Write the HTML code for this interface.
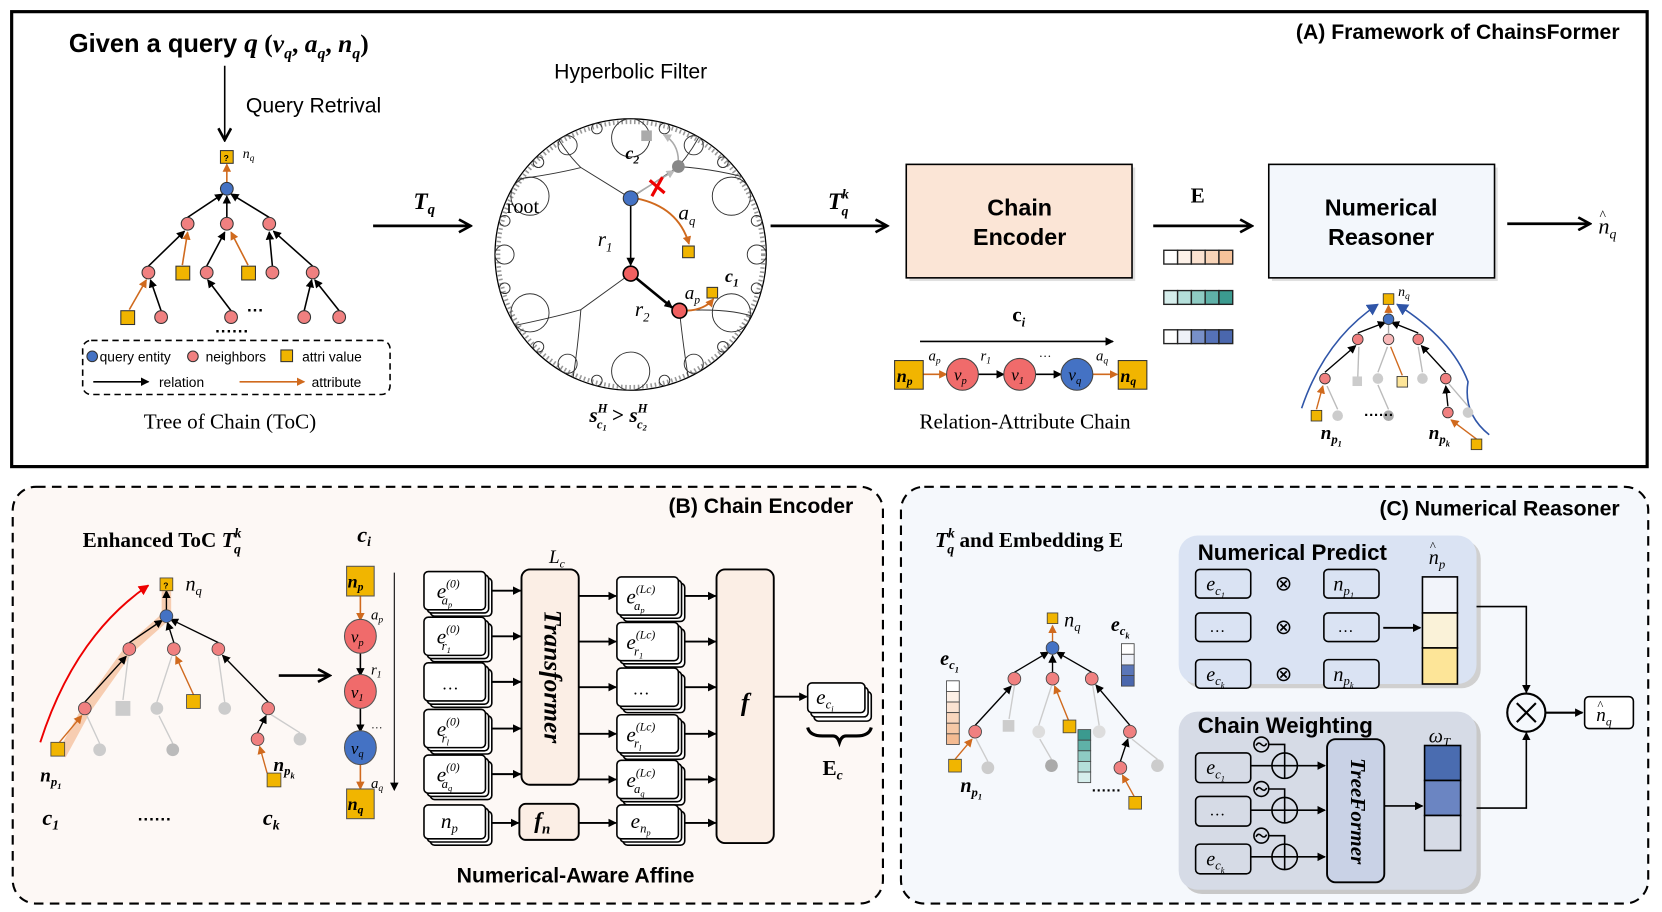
<!DOCTYPE html>
<html><head><meta charset="utf-8"><style>
html,body{margin:0;padding:0;background:#fff;}
svg{display:block;}
.sb{font-family:"Liberation Sans",sans-serif;font-weight:bold;}
.s{font-family:"Liberation Sans",sans-serif;}
.m{font-family:"Liberation Serif",serif;font-style:italic;}
.mb{font-family:"Liberation Serif",serif;font-style:italic;font-weight:bold;}
.r{font-family:"Liberation Serif",serif;}
</style></head><body>
<svg width="1662" height="912" viewBox="0 0 1568 860" preserveAspectRatio="none" xmlns="http://www.w3.org/2000/svg">
<defs>
<marker id="ak" markerWidth="8" markerHeight="8" refX="7" refY="4" orient="auto" markerUnits="userSpaceOnUse"><path d="M0,0 L8,4 L0,8 z" fill="#000"/></marker>
<marker id="akb" markerWidth="14" markerHeight="14" refX="12" refY="7" orient="auto" markerUnits="userSpaceOnUse"><path d="M1,1 L12,7 L1,13" fill="none" stroke="#000" stroke-width="2.5"/></marker>
<marker id="ao" markerWidth="8" markerHeight="8" refX="7" refY="4" orient="auto" markerUnits="userSpaceOnUse"><path d="M0,0 L8,4 L0,8 z" fill="#d06a1e"/></marker>
<marker id="ag" markerWidth="8" markerHeight="8" refX="7" refY="4" orient="auto" markerUnits="userSpaceOnUse"><path d="M0,0 L8,4 L0,8 z" fill="#bbb"/></marker>
<marker id="abl" markerWidth="12" markerHeight="12" refX="10" refY="6" orient="auto" markerUnits="userSpaceOnUse"><path d="M0,0 L11,6 L0,12 z" fill="#2f55a8"/></marker>
<marker id="ar" markerWidth="10" markerHeight="10" refX="9" refY="5" orient="auto" markerUnits="userSpaceOnUse"><path d="M0,0 L10,5 L0,10 z" fill="#e00"/></marker>
<clipPath id="hc"><circle cx="595" cy="240" r="128"/></clipPath>
</defs>

<!-- TOP BOX -->
<rect x="11" y="11" width="1543" height="429" fill="#fff" stroke="#000" stroke-width="3"/>
<text x="1528" y="37" class="sb" font-size="20" text-anchor="end">(A) Framework of ChainsFormer</text>

<text x="65" y="49" class="sb" font-size="24">Given a query <tspan class="mb" font-size="26">q</tspan><tspan class="r" font-size="24"> (</tspan><tspan class="mb" font-size="24">v</tspan><tspan class="mb" font-size="15" dy="6">q</tspan><tspan class="r" dy="-6">, </tspan><tspan class="mb">a</tspan><tspan class="mb" font-size="15" dy="6">q</tspan><tspan class="r" dy="-6">, </tspan><tspan class="mb">n</tspan><tspan class="mb" font-size="15" dy="6">q</tspan><tspan class="r" dy="-6">)</tspan></text>
<line x1="212" y1="62" x2="212" y2="132" stroke="#000" stroke-width="1.5" marker-end="url(#akb)"/>
<text x="232" y="106" class="s" font-size="20">Query Retrival</text>

<!-- ToC tree -->
<g stroke-width="1.5">
<line x1="214" y1="172" x2="214" y2="155" stroke="#d06a1e" marker-end="url(#ao)"/>
<line x1="177" y1="205" x2="210" y2="183" stroke="#000" marker-end="url(#ak)"/>
<line x1="214" y1="205" x2="214" y2="185" stroke="#000" marker-end="url(#ak)"/>
<line x1="254" y1="205" x2="218" y2="183" stroke="#000" marker-end="url(#ak)"/>
<line x1="140" y1="251" x2="174" y2="218" stroke="#000" marker-end="url(#ak)"/>
<line x1="172" y1="250" x2="177" y2="219" stroke="#d06a1e" marker-end="url(#ao)"/>
<line x1="195" y1="251" x2="212" y2="219" stroke="#000" marker-end="url(#ak)"/>
<line x1="234" y1="250" x2="218" y2="219" stroke="#d06a1e" marker-end="url(#ao)"/>
<line x1="257" y1="251" x2="254" y2="219" stroke="#000" marker-end="url(#ak)"/>
<line x1="295" y1="251" x2="258" y2="218" stroke="#000" marker-end="url(#ak)"/>
<line x1="122" y1="292" x2="138" y2="264" stroke="#d06a1e" marker-end="url(#ao)"/>
<line x1="152" y1="293" x2="142" y2="264" stroke="#000" marker-end="url(#ak)"/>
<line x1="218" y1="293" x2="196" y2="264" stroke="#000" marker-end="url(#ak)"/>
<line x1="287" y1="293" x2="294" y2="264" stroke="#000" marker-end="url(#ak)"/>
<line x1="320" y1="293" x2="297" y2="264" stroke="#000" marker-end="url(#ak)"/>
</g>
<g stroke="#333" stroke-width="1">
<rect x="208" y="142" width="12" height="12" fill="#f1b500"/>
<circle cx="214" cy="178" r="6" fill="#4472c4"/>
<circle cx="177" cy="211" r="6" fill="#f08080"/><circle cx="214" cy="211" r="6" fill="#f08080"/><circle cx="254" cy="211" r="6" fill="#f08080"/>
<circle cx="140" cy="257" r="6" fill="#f08080"/><rect x="166" y="251" width="13" height="13" fill="#f1b500"/><circle cx="195" cy="257" r="6" fill="#f08080"/><rect x="228" y="251" width="13" height="13" fill="#f1b500"/><circle cx="257" cy="257" r="6" fill="#f08080"/><circle cx="295" cy="257" r="6" fill="#f08080"/>
<rect x="114" y="293" width="13" height="13" fill="#f1b500"/><circle cx="152" cy="299" r="6" fill="#f08080"/><circle cx="218" cy="299" r="6" fill="#f08080"/><circle cx="287" cy="299" r="6" fill="#f08080"/><circle cx="320" cy="299" r="6" fill="#f08080"/>
</g>
<text x="211" y="152" font-size="8" class="sb">?</text>
<text x="229" y="149" class="m" font-size="13">n<tspan font-size="9" dy="3">q</tspan></text>
<text x="233" y="298" class="sb" font-size="16">···</text>
<text x="203" y="318" class="sb" font-size="16">······</text>
<rect x="78" y="321" width="290" height="51" rx="8" fill="none" stroke="#000" stroke-width="1.5" stroke-dasharray="6,4"/>
<circle cx="87" cy="336" r="5" fill="#4472c4" stroke="#333"/><text x="94" y="341" class="s" font-size="13">query entity</text>
<circle cx="182" cy="336" r="5" fill="#f08080" stroke="#333"/><text x="194" y="341" class="s" font-size="13">neighbors</text>
<rect x="265" y="330" width="11" height="11" fill="#f1b500" stroke="#333"/><text x="285" y="341" class="s" font-size="13">attri value</text>
<line x1="88" y1="360" x2="140" y2="360" stroke="#000" stroke-width="1.5" marker-end="url(#ak)"/><text x="150" y="365" class="s" font-size="13">relation</text>
<line x1="226" y1="360" x2="287" y2="360" stroke="#d06a1e" stroke-width="1.5" marker-end="url(#ao)"/><text x="294" y="365" class="s" font-size="13">attribute</text>
<text x="217" y="404" class="r" font-size="20" text-anchor="middle">Tree of Chain (ToC)</text>

<line x1="352" y1="213" x2="444" y2="213" stroke="#000" stroke-width="2.5" marker-end="url(#akb)"/>
<text x="390" y="197" class="mb" font-size="22">T<tspan font-size="14" dy="5">q</tspan></text>

<!-- Hyperbolic -->
<text x="595" y="74" class="s" font-size="20" text-anchor="middle">Hyperbolic Filter</text>
<circle cx="595" cy="240" r="128" fill="#fff" stroke="#000" stroke-width="1.2"/>
<g clip-path="url(#hc)" fill="none" stroke="#333" stroke-width="0.9">
<circle cx="595" cy="240" r="125" stroke="#555" stroke-width="4" stroke-dasharray="1.5,2.5" opacity="0.6"/>
<circle cx="690" cy="295" r="18"/><circle cx="595" cy="350" r="18"/><circle cx="500" cy="295" r="18"/>
<circle cx="500" cy="185" r="18"/><circle cx="595" cy="130" r="18"/><circle cx="690" cy="185" r="18"/>
<circle cx="714" cy="240" r="9"/><circle cx="654.5" cy="343" r="9"/><circle cx="535.5" cy="343" r="9"/>
<circle cx="476" cy="240" r="9"/><circle cx="535.5" cy="137" r="9"/><circle cx="654.5" cy="137" r="9"/>
<circle cx="713.8" cy="271.8" r="5"/><circle cx="682" cy="327" r="5"/><circle cx="626.9" cy="358.8" r="5"/><circle cx="563.1" cy="358.8" r="5"/>
<circle cx="508" cy="327" r="5"/><circle cx="476.2" cy="271.8" r="5"/><circle cx="476.2" cy="208.2" r="5"/><circle cx="508" cy="153" r="5"/>
<circle cx="563.1" cy="121.2" r="5"/><circle cx="626.9" cy="121.2" r="5"/><circle cx="682" cy="153" r="5"/><circle cx="713.8" cy="208.2" r="5"/>
<path d="M595,187 L548,158 Q530,140 520,118"/>
<path d="M548,158 Q520,165 480,170"/>
<path d="M595,187 L640,157 Q655,140 665,118"/>
<path d="M640,157 Q680,160 712,170"/>
<path d="M595,258 L548,292 Q520,300 480,308"/>
<path d="M548,292 Q545,330 540,360"/>
<path d="M641,293 Q645,330 650,360"/>
<path d="M641,293 Q690,290 715,300"/>
</g>
<line x1="595" y1="187" x2="595" y2="250" stroke="#000" stroke-width="1.5" marker-end="url(#ak)"/>
<line x1="595" y1="258" x2="634" y2="290" stroke="#000" stroke-width="2.5" marker-end="url(#ak)"/>
<path d="M600,187 Q640,195 650,230" fill="none" stroke="#d06a1e" stroke-width="1.8" marker-end="url(#ao)"/>
<path d="M648,293 Q665,292 673,282" fill="none" stroke="#d06a1e" stroke-width="1.8" marker-end="url(#ao)"/>
<line x1="600" y1="183" x2="636" y2="161" stroke="#aaa" stroke-width="1.5" marker-end="url(#ag)"/>
<path d="M640,152 Q640,135 626,127" fill="none" stroke="#aaa" stroke-width="1.5" marker-end="url(#ag)"/>
<circle cx="640" cy="157" r="6" fill="#888"/>
<rect x="605" y="123" width="10" height="10" fill="#aaa"/>
<path d="M613,170 L627,182 M625,167 L615,185" stroke="#e00" stroke-width="3"/>
<circle cx="595" cy="187" r="7" fill="#4472c4" stroke="#333"/>
<circle cx="595" cy="258" r="7" fill="#f06060" stroke="#000" stroke-width="1.5"/>
<circle cx="641" cy="293" r="7" fill="#f06060" stroke="#000" stroke-width="1.5"/>
<rect x="644" y="232" width="11" height="11" fill="#f1b500" stroke="#333"/>
<rect x="667" y="271" width="10" height="10" fill="#f1b500" stroke="#333"/>
<text x="590" y="150" class="mb" font-size="17">c<tspan font-size="11" dy="4">2</tspan></text>
<text x="478" y="201" class="r" font-size="19">root</text>
<text x="640" y="207" class="m" font-size="20">a<tspan font-size="12" dy="5">q</tspan></text>
<text x="564" y="232" class="m" font-size="20">r<tspan font-size="12" dy="5">1</tspan></text>
<text x="599" y="298" class="m" font-size="20">r<tspan font-size="12" dy="5">2</tspan></text>
<text x="646" y="282" class="m" font-size="18">a<tspan font-size="11" dy="4">p</tspan></text>
<text x="684" y="266" class="mb" font-size="17">c<tspan font-size="11" dy="4">1</tspan></text>
<text x="556" y="398" class="mb" font-size="20">s<tspan font-size="12" dy="-9">H</tspan><tspan font-size="12" dx="-10" dy="15">c</tspan><tspan font-size="8" dy="2">1</tspan><tspan class="r" font-size="20" dy="-8" font-style="normal"> &gt; </tspan>s<tspan font-size="12" dy="-9">H</tspan><tspan font-size="12" dx="-10" dy="15">c</tspan><tspan font-size="8" dy="2">2</tspan></text>

<line x1="727" y1="213" x2="837" y2="213" stroke="#000" stroke-width="2.5" marker-end="url(#akb)"/>
<text x="781" y="197" class="mb" font-size="22">T<tspan font-size="13" dy="-10">k</tspan><tspan font-size="13" dx="-7" dy="16">q</tspan></text>

<rect x="858" y="158" width="213" height="107" fill="#ccc" opacity="0.6"/>
<rect x="855" y="155" width="213" height="107" fill="#fbe5d6" stroke="#000" stroke-width="1.5"/>
<text x="962" y="203" class="sb" font-size="22" text-anchor="middle">Chain</text>
<text x="962" y="231" class="sb" font-size="22" text-anchor="middle">Encoder</text>
<line x1="1088" y1="213" x2="1181" y2="213" stroke="#000" stroke-width="2.5" marker-end="url(#akb)"/>
<text x="1130" y="191" class="r" font-weight="bold" font-size="20" text-anchor="middle">E</text>
<g stroke="#222" stroke-width="1.3">
<rect x="1098" y="236" width="13" height="13" fill="#fff"/><rect x="1111" y="236" width="13" height="13" fill="#fdf1e8"/><rect x="1124" y="236" width="13" height="13" fill="#fbe2d0"/><rect x="1137" y="236" width="13" height="13" fill="#f8d4b8"/><rect x="1150" y="236" width="13" height="13" fill="#f5c29a"/>
<rect x="1098" y="274" width="13" height="13" fill="#d6eeec"/><rect x="1111" y="274" width="13" height="13" fill="#b4dfda"/><rect x="1124" y="274" width="13" height="13" fill="#8ecbc3"/><rect x="1137" y="274" width="13" height="13" fill="#5fb1a8"/><rect x="1150" y="274" width="13" height="13" fill="#3b9a8f"/>
<rect x="1098" y="311" width="13" height="13" fill="#fff"/><rect x="1111" y="311" width="13" height="13" fill="#eef1f8"/><rect x="1124" y="311" width="13" height="13" fill="#7890c8"/><rect x="1137" y="311" width="13" height="13" fill="#5572b8"/><rect x="1150" y="311" width="13" height="13" fill="#4a67ad"/>
</g>
<rect x="1200" y="158" width="213" height="107" fill="#ccc" opacity="0.6"/>
<rect x="1197" y="155" width="213" height="107" fill="#f3f7fc" stroke="#000" stroke-width="1.5"/>
<text x="1303" y="203" class="sb" font-size="22" text-anchor="middle">Numerical</text>
<text x="1303" y="231" class="sb" font-size="22" text-anchor="middle">Reasoner</text>
<line x1="1422" y1="211" x2="1500" y2="211" stroke="#000" stroke-width="2.5" marker-end="url(#akb)"/>
<text x="1508" y="220" class="m" font-size="21">n<tspan font-size="13" dy="5">q</tspan></text><text x="1509" y="207" class="r" font-size="13">^</text>

<!-- chain -->
<text x="955" y="303" class="r" font-weight="bold" font-size="20">c<tspan font-size="12" dy="5" font-style="italic">i</tspan></text>
<line x1="868" y1="322" x2="1050" y2="322" stroke="#000" stroke-width="1.5" marker-end="url(#ak)"/>
<line x1="870" y1="353" x2="893" y2="353" stroke="#d06a1e" stroke-width="1.5" marker-end="url(#ao)"/>
<line x1="923" y1="353" x2="947" y2="353" stroke="#000" stroke-width="1.5" marker-end="url(#ak)"/>
<line x1="977" y1="353" x2="1001" y2="353" stroke="#000" stroke-width="1.5" marker-end="url(#ak)"/>
<line x1="1031" y1="353" x2="1054" y2="353" stroke="#d06a1e" stroke-width="1.5" marker-end="url(#ao)"/>
<rect x="844" y="340" width="27" height="27" fill="#f1b500" stroke="#333"/>
<circle cx="908" cy="353" r="15" fill="#f06b6b" stroke="#444"/>
<circle cx="962" cy="353" r="15" fill="#f06b6b" stroke="#444"/>
<circle cx="1016" cy="353" r="15" fill="#4472c4" stroke="#444"/>
<rect x="1055" y="340" width="27" height="27" fill="#f1b500" stroke="#333"/>
<text x="846" y="360" class="mb" font-size="17">n<tspan font-size="11" dy="3">p</tspan></text>
<text x="900" y="359" class="m" font-size="16">v<tspan font-size="10" dy="3">p</tspan></text>
<text x="954" y="359" class="m" font-size="16">v<tspan font-size="10" dy="3">1</tspan></text>
<text x="1008" y="359" class="m" font-size="16">v<tspan font-size="10" dy="3">q</tspan></text>
<text x="1057" y="360" class="mb" font-size="17">n<tspan font-size="11" dy="3">q</tspan></text>
<text x="876" y="340" class="m" font-size="14">a<tspan font-size="9" dy="3">p</tspan></text>
<text x="925" y="340" class="m" font-size="14">r<tspan font-size="9" dy="3">1</tspan></text>
<text x="980" y="340" class="r" font-size="12">···</text>
<text x="1034" y="340" class="m" font-size="14">a<tspan font-size="9" dy="3">q</tspan></text>
<text x="967" y="404" class="r" font-size="20" text-anchor="middle">Relation-Attribute Chain</text>

<!-- small tree A -->
<g stroke-width="1.3">
<path d="M1228,385 Q1250,320 1300,287" fill="none" stroke="#2f55a8" stroke-width="1.5" marker-end="url(#abl)"/>
<path d="M1405,410 Q1380,390 1385,360 Q1370,320 1318,287" fill="none" stroke="#2f55a8" stroke-width="1.5" marker-end="url(#abl)"/>
<line x1="1281" y1="314" x2="1307" y2="304" stroke="#000" marker-end="url(#ak)"/>
<line x1="1310" y1="314" x2="1310" y2="306" stroke="#aaa"/>
<line x1="1338" y1="314" x2="1313" y2="304" stroke="#000" marker-end="url(#ak)"/>
<line x1="1310" y1="295" x2="1310" y2="288" stroke="#d06a1e" marker-end="url(#ao)"/>
<line x1="1250" y1="351" x2="1279" y2="326" stroke="#000" marker-end="url(#ak)"/>
<line x1="1281" y1="355" x2="1282" y2="327" stroke="#bbb"/>
<line x1="1300" y1="351" x2="1309" y2="327" stroke="#bbb"/>
<line x1="1323" y1="354" x2="1312" y2="327" stroke="#d06a1e"/>
<line x1="1342" y1="351" x2="1338" y2="327" stroke="#bbb"/>
<line x1="1364" y1="351" x2="1341" y2="326" stroke="#000" marker-end="url(#ak)"/>
<line x1="1242" y1="386" x2="1248" y2="364" stroke="#d06a1e" marker-end="url(#ao)"/>
<line x1="1262" y1="386" x2="1252" y2="364" stroke="#bbb"/>
<line x1="1310" y1="386" x2="1300" y2="363" stroke="#bbb"/>
<line x1="1366" y1="383" x2="1364" y2="364" stroke="#000" marker-end="url(#ak)"/>
<line x1="1385" y1="383" x2="1367" y2="362" stroke="#bbb"/>
<line x1="1393" y1="414" x2="1369" y2="396" stroke="#d06a1e" marker-end="url(#ao)"/>
</g>
<g stroke="#333" stroke-width="0.8">
<rect x="1305" y="277" width="10" height="10" fill="#f1b500"/>
<circle cx="1310" cy="301" r="5" fill="#4472c4"/>
<circle cx="1281" cy="320" r="5" fill="#f08080"/><circle cx="1310" cy="320" r="5" fill="#f8b8b8"/><circle cx="1338" cy="320" r="5" fill="#f08080"/>
<circle cx="1250" cy="357" r="5" fill="#f08080"/><rect x="1276" y="355" width="9" height="9" fill="#ccc" stroke="none"/><circle cx="1300" cy="357" r="5" fill="#ccc" stroke="none"/><rect x="1318" y="355" width="10" height="10" fill="#fde598"/><circle cx="1342" cy="357" r="5" fill="#ccc" stroke="none"/><circle cx="1364" cy="357" r="5" fill="#f08080"/>
<rect x="1237" y="387" width="10" height="10" fill="#f1b500"/><circle cx="1262" cy="392" r="5" fill="#ccc" stroke="none"/><circle cx="1310" cy="392" r="5" fill="#aaa" stroke="none"/><circle cx="1366" cy="389" r="5" fill="#f08080"/><circle cx="1385" cy="389" r="5" fill="#ccc" stroke="none"/>
<rect x="1388" y="414" width="10" height="10" fill="#f1b500"/>
</g>
<text x="1319" y="279" class="m" font-size="13">n<tspan font-size="9" dy="3">q</tspan></text>
<text x="1287" y="396" class="sb" font-size="14">······</text>
<text x="1246" y="414" class="mb" font-size="18">n<tspan font-size="12" dy="4">p</tspan><tspan font-size="8" dy="3">1</tspan></text>
<text x="1348" y="414" class="mb" font-size="18">n<tspan font-size="12" dy="4">p</tspan><tspan font-size="8" dy="3">k</tspan></text>

<!-- PANEL B -->
<rect x="12" y="459" width="821" height="393" rx="22" fill="#fdf8f5" stroke="#000" stroke-width="2" stroke-dasharray="9,6"/>
<text x="805" y="484" class="sb" font-size="20" text-anchor="end">(B) Chain Encoder</text>
<text x="78" y="516" class="r" font-weight="bold" font-size="20">Enhanced ToC  <tspan class="mb">T</tspan><tspan class="mb" font-size="13" dy="-9">k</tspan><tspan class="mb" font-size="13" dx="-7" dy="15">q</tspan></text>
<path d="M58,712 L82,668 L122,612 L157,581 L157,551" fill="none" stroke="#f4b183" stroke-width="9" opacity="0.6" stroke-linejoin="round"/>
<path d="M38,700 Q70,600 140,552" fill="none" stroke="#e00" stroke-width="1.8" marker-end="url(#ar)"/>
<g stroke-width="1.3">
<line x1="157" y1="575" x2="157" y2="557" stroke="#000" marker-end="url(#ak)"/>
<line x1="122" y1="606" x2="153" y2="585" stroke="#000" marker-end="url(#ak)"/>
<line x1="164" y1="606" x2="158" y2="587" stroke="#000" marker-end="url(#ak)"/>
<line x1="206" y1="606" x2="161" y2="584" stroke="#000" marker-end="url(#ak)"/>
<line x1="80" y1="662" x2="119" y2="619" stroke="#000" marker-end="url(#ak)"/>
<line x1="116" y1="660" x2="121" y2="619" stroke="#ccc"/>
<line x1="148" y1="662" x2="162" y2="619" stroke="#ccc"/>
<line x1="183" y1="656" x2="166" y2="619" stroke="#d06a1e" marker-end="url(#ao)"/>
<line x1="212" y1="662" x2="206" y2="619" stroke="#ccc"/>
<line x1="253" y1="662" x2="210" y2="618" stroke="#000" marker-end="url(#ak)"/>
<line x1="56" y1="700" x2="77" y2="675" stroke="#d06a1e" marker-end="url(#ao)"/>
<line x1="94" y1="701" x2="82" y2="675" stroke="#ccc"/>
<line x1="163" y1="701" x2="150" y2="675" stroke="#ccc"/>
<line x1="243" y1="691" x2="251" y2="675" stroke="#000" marker-end="url(#ak)"/>
<line x1="283" y1="691" x2="256" y2="674" stroke="#ccc"/>
<line x1="252" y1="729" x2="245" y2="704" stroke="#d06a1e" marker-end="url(#ao)"/>
</g>
<g stroke="#444" stroke-width="0.8">
<rect x="151" y="545" width="12" height="12" fill="#f1b500"/>
<circle cx="157" cy="581" r="6" fill="#4472c4"/>
<circle cx="122" cy="612" r="6" fill="#f08080"/><circle cx="164" cy="612" r="6" fill="#f08080"/><circle cx="206" cy="612" r="6" fill="#f08080"/>
<circle cx="80" cy="668" r="6" fill="#f08080"/><rect x="109" y="661" width="14" height="14" fill="#ccc" stroke="none"/><circle cx="148" cy="668" r="6" fill="#ccc" stroke="none"/><rect x="176" y="655" width="13" height="13" fill="#f1b500"/><circle cx="212" cy="668" r="6" fill="#ccc" stroke="none"/><circle cx="253" cy="668" r="6" fill="#f08080"/>
<rect x="48" y="700" width="13" height="13" fill="#f1b500"/><circle cx="94" cy="707" r="6" fill="#ccc" stroke="none"/><circle cx="163" cy="707" r="6" fill="#bbb" stroke="none"/><circle cx="243" cy="697" r="6" fill="#f08080"/><circle cx="283" cy="697" r="6" fill="#ccc" stroke="none"/>
<rect x="252" y="729" width="13" height="13" fill="#f1b500"/>
</g>
<text x="154" y="555" font-size="8" class="sb">?</text>
<text x="175" y="557" class="m" font-size="19">n<tspan font-size="12" dy="4">q</tspan></text>
<text x="38" y="737" class="mb" font-size="18">n<tspan font-size="12" dy="4">p</tspan><tspan font-size="8" dy="3">1</tspan></text>
<text x="258" y="727" class="mb" font-size="18">n<tspan font-size="12" dy="4">p</tspan><tspan font-size="8" dy="3">k</tspan></text>
<text x="40" y="778" class="mb" font-size="21">c<tspan font-size="13" dy="4">1</tspan></text>
<text x="130" y="778" class="sb" font-size="16">······</text>
<text x="248" y="778" class="mb" font-size="21">c<tspan font-size="13" dy="4">k</tspan></text>
<line x1="263" y1="637" x2="311" y2="637" stroke="#000" stroke-width="2.5" marker-end="url(#akb)"/>

<text x="337" y="511" class="mb" font-size="21">c<tspan font-size="13" dy="4">i</tspan></text>
<line x1="372" y1="540" x2="372" y2="745" stroke="#000" stroke-width="1" marker-end="url(#ak)"/>
<line x1="340" y1="561" x2="340" y2="585" stroke="#d06a1e" stroke-width="1.5" marker-end="url(#ao)"/>
<line x1="340" y1="615" x2="340" y2="637" stroke="#000" stroke-width="1.5" marker-end="url(#ak)"/>
<line x1="340" y1="667" x2="340" y2="690" stroke="#000" stroke-width="1.5" marker-end="url(#ak)"/>
<line x1="340" y1="720" x2="340" y2="744" stroke="#d06a1e" stroke-width="1.5" marker-end="url(#ao)"/>
<rect x="327" y="534" width="26" height="28" fill="#f1b500" stroke="#555"/>
<ellipse cx="340" cy="600" rx="15" ry="16" fill="#f06b6b" stroke="#555"/>
<ellipse cx="340" cy="652" rx="15" ry="16" fill="#f06b6b" stroke="#555"/>
<ellipse cx="340" cy="705" rx="15" ry="16" fill="#4472c4" stroke="#555"/>
<rect x="327" y="744" width="26" height="28" fill="#f1b500" stroke="#555"/>
<text x="328" y="554" class="mb" font-size="17">n<tspan font-size="11" dy="3">p</tspan></text>
<text x="331" y="606" class="m" font-size="16">v<tspan font-size="10" dy="3">p</tspan></text>
<text x="331" y="658" class="m" font-size="16">v<tspan font-size="10" dy="3">1</tspan></text>
<text x="331" y="711" class="m" font-size="16">v<tspan font-size="10" dy="3">q</tspan></text>
<text x="328" y="764" class="mb" font-size="17">n<tspan font-size="11" dy="3">q</tspan></text>
<text x="350" y="584" class="m" font-size="14">a<tspan font-size="9" dy="3">p</tspan></text>
<text x="350" y="636" class="m" font-size="14">r<tspan font-size="9" dy="3">1</tspan></text>
<text x="350" y="690" class="r" font-size="11">···</text>
<text x="350" y="743" class="m" font-size="14">a<tspan font-size="9" dy="3">q</tspan></text>

<g stroke="#000" stroke-width="1.5" fill="#fff">
<g id="lb">
<rect x="406" y="545" width="58" height="36" rx="4"/><rect x="403" y="542" width="58" height="36" rx="4"/><rect x="400" y="539" width="58" height="36" rx="4"/>
</g>
<use href="#lb" y="43"/><use href="#lb" y="86"/><use href="#lb" y="130"/><use href="#lb" y="173"/>
<use href="#lb" x="182" y="5"/><use href="#lb" x="182" y="48"/><use href="#lb" x="182" y="91"/><use href="#lb" x="182" y="135"/><use href="#lb" x="182" y="178"/>
<rect x="406" y="765" width="58" height="32" rx="4"/><rect x="403" y="762" width="58" height="32" rx="4"/><rect x="400" y="759" width="58" height="32" rx="4"/>
<rect x="588" y="765" width="58" height="32" rx="4"/><rect x="585" y="762" width="58" height="32" rx="4"/><rect x="582" y="759" width="58" height="32" rx="4"/>
<rect x="768" y="652" width="54" height="28" rx="4"/><rect x="765" y="648" width="54" height="28" rx="4"/><rect x="762" y="644" width="54" height="28" rx="4"/>
</g>
<rect x="492" y="537" width="54" height="203" rx="8" fill="#fbeee5" stroke="#000" stroke-width="1.8"/>
<rect x="490" y="758" width="56" height="34" rx="6" fill="#fbeee5" stroke="#000" stroke-width="1.8"/>
<rect x="676" y="537" width="54" height="258" rx="8" fill="#fbeee5" stroke="#000" stroke-width="1.8"/>
<text x="519" y="638" class="mb" font-size="24" text-anchor="middle" dominant-baseline="middle" transform="rotate(90 519 638)">Transformer</text>
<text x="703" y="670" class="mb" font-size="24" text-anchor="middle">f</text>
<text x="504" y="781" class="mb" font-size="22">f<tspan font-size="14" dy="5">n</tspan></text>
<text x="518" y="531" class="m" font-size="18">L<tspan font-size="11" dy="4">c</tspan></text>
<g class="m" font-size="20">
<text x="412" y="564">e<tspan font-size="11" dy="-10">(0)</tspan><tspan font-size="12" dx="-17" dy="16">a</tspan><tspan font-size="8" dy="3">p</tspan></text>
<text x="412" y="607">e<tspan font-size="11" dy="-10">(0)</tspan><tspan font-size="12" dx="-17" dy="16">r</tspan><tspan font-size="8" dy="3">1</tspan></text>
<text x="418" y="650" class="r" font-size="16">…</text>
<text x="412" y="694">e<tspan font-size="11" dy="-10">(0)</tspan><tspan font-size="12" dx="-17" dy="16">r</tspan><tspan font-size="8" dy="3">l</tspan></text>
<text x="412" y="737">e<tspan font-size="11" dy="-10">(0)</tspan><tspan font-size="12" dx="-17" dy="16">a</tspan><tspan font-size="8" dy="3">q</tspan></text>
<text x="591" y="569">e<tspan font-size="11" dy="-10">(Lc)</tspan><tspan font-size="12" dx="-20" dy="16">a</tspan><tspan font-size="8" dy="3">p</tspan></text>
<text x="591" y="612">e<tspan font-size="11" dy="-10">(Lc)</tspan><tspan font-size="12" dx="-20" dy="16">r</tspan><tspan font-size="8" dy="3">1</tspan></text>
<text x="598" y="655" class="r" font-size="16">…</text>
<text x="591" y="699">e<tspan font-size="11" dy="-10">(Lc)</tspan><tspan font-size="12" dx="-20" dy="16">r</tspan><tspan font-size="8" dy="3">l</tspan></text>
<text x="591" y="742">e<tspan font-size="11" dy="-10">(Lc)</tspan><tspan font-size="12" dx="-20" dy="16">a</tspan><tspan font-size="8" dy="3">q</tspan></text>
<text x="416" y="781">n<tspan font-size="12" dy="4">p</tspan></text>
<text x="595" y="781">e<tspan font-size="12" dy="4">n</tspan><tspan font-size="8" dy="3">p</tspan></text>
<text x="770" y="664">e<tspan font-size="12" dy="4">c</tspan><tspan font-size="8" dy="3">i</tspan></text>
</g>
<g stroke="#000" stroke-width="1.8">
<line x1="464" y1="557" x2="491" y2="557" marker-end="url(#ak)"/><line x1="464" y1="600" x2="491" y2="600" marker-end="url(#ak)"/><line x1="464" y1="643" x2="491" y2="643" marker-end="url(#ak)"/><line x1="464" y1="687" x2="491" y2="687" marker-end="url(#ak)"/><line x1="464" y1="730" x2="491" y2="730" marker-end="url(#ak)"/>
<line x1="546" y1="562" x2="581" y2="562" marker-end="url(#ak)"/><line x1="546" y1="605" x2="581" y2="605" marker-end="url(#ak)"/><line x1="546" y1="648" x2="581" y2="648" marker-end="url(#ak)"/><line x1="546" y1="692" x2="581" y2="692" marker-end="url(#ak)"/><line x1="546" y1="735" x2="581" y2="735" marker-end="url(#ak)"/>
<line x1="646" y1="562" x2="675" y2="562" marker-end="url(#ak)"/><line x1="646" y1="605" x2="675" y2="605" marker-end="url(#ak)"/><line x1="646" y1="648" x2="675" y2="648" marker-end="url(#ak)"/><line x1="646" y1="692" x2="675" y2="692" marker-end="url(#ak)"/><line x1="646" y1="735" x2="675" y2="735" marker-end="url(#ak)"/>
<line x1="464" y1="776" x2="489" y2="776" marker-end="url(#ak)"/><line x1="546" y1="776" x2="581" y2="776" marker-end="url(#ak)"/><line x1="646" y1="776" x2="675" y2="776" marker-end="url(#ak)"/>
<line x1="730" y1="657" x2="761" y2="657" marker-end="url(#ak)"/>
</g>
<path d="M762,686 Q764,694 776,694 L786,694 Q790,694 792,700 Q794,694 798,694 L808,694 Q820,694 822,686" fill="none" stroke="#000" stroke-width="3"/>
<text x="776" y="731" class="r" font-weight="bold" font-size="20">E<tspan font-size="13" dy="4" font-style="italic">c</tspan></text>
<text x="543" y="832" class="sb" font-size="20" text-anchor="middle">Numerical-Aware Affine</text>

<!-- PANEL C -->
<rect x="850" y="459" width="705" height="393" rx="22" fill="#f5f8fc" stroke="#000" stroke-width="2" stroke-dasharray="9,6"/>
<text x="1528" y="486" class="sb" font-size="20" text-anchor="end">(C) Numerical Reasoner</text>
<text x="882" y="516" class="r" font-weight="bold" font-size="20"><tspan class="mb">T</tspan><tspan class="mb" font-size="13" dy="-9">k</tspan><tspan class="mb" font-size="13" dx="-7" dy="15">q</tspan><tspan dy="-6">  and Embedding E</tspan></text>
<g stroke-width="1.3">
<line x1="993" y1="605" x2="993" y2="590" stroke="#d06a1e" marker-end="url(#ao)"/>
<line x1="957" y1="634" x2="989" y2="615" stroke="#000" marker-end="url(#ak)"/>
<line x1="993" y1="634" x2="993" y2="618" stroke="#000" marker-end="url(#ak)"/>
<line x1="1030" y1="634" x2="997" y2="615" stroke="#000" marker-end="url(#ak)"/>
<line x1="920" y1="684" x2="954" y2="647" stroke="#000" marker-end="url(#ak)"/>
<line x1="952" y1="678" x2="957" y2="647" stroke="#ccc"/>
<line x1="980" y1="684" x2="992" y2="647" stroke="#ccc"/>
<line x1="1008" y1="679" x2="995" y2="647" stroke="#d06a1e" marker-end="url(#ao)"/>
<line x1="1037" y1="684" x2="1031" y2="647" stroke="#ccc"/>
<line x1="1066" y1="684" x2="1034" y2="646" stroke="#000" marker-end="url(#ak)"/>
<line x1="901" y1="716" x2="917" y2="697" stroke="#d06a1e" marker-end="url(#ao)"/>
<line x1="932" y1="718" x2="921" y2="697" stroke="#ccc"/>
<line x1="992" y1="716" x2="981" y2="697" stroke="#ccc"/>
<line x1="1057" y1="718" x2="1064" y2="697" stroke="#000" marker-end="url(#ak)"/>
<line x1="1092" y1="716" x2="1068" y2="697" stroke="#ccc"/>
<line x1="1070" y1="751" x2="1059" y2="731" stroke="#d06a1e" marker-end="url(#ao)"/>
</g>
<g stroke="#444" stroke-width="0.8">
<rect x="988" y="578" width="10" height="10" fill="#f1b500"/>
<circle cx="993" cy="611" r="6" fill="#4472c4"/>
<circle cx="957" cy="640" r="6" fill="#f08080"/><circle cx="993" cy="640" r="6" fill="#f08080"/><circle cx="1030" cy="640" r="6" fill="#f08080"/>
<circle cx="920" cy="690" r="6" fill="#f08080"/><rect x="946" y="679" width="11" height="11" fill="#ccc" stroke="none"/><circle cx="980" cy="690" r="6" fill="#ddd" stroke="none"/><rect x="1003" y="679" width="12" height="12" fill="#f1b500"/><circle cx="1037" cy="690" r="6" fill="#ddd" stroke="none"/><circle cx="1066" cy="690" r="6" fill="#f08080"/>
<rect x="895" y="716" width="12" height="12" fill="#f1b500"/><circle cx="932" cy="724" r="6" fill="#ccc" stroke="none"/><circle cx="992" cy="722" r="6" fill="#aaa" stroke="none"/><circle cx="1057" cy="724" r="6" fill="#f08080"/><circle cx="1092" cy="722" r="6" fill="#ccc" stroke="none"/>
<rect x="1065" y="751" width="12" height="12" fill="#f1b500"/>
</g>
<text x="1004" y="591" class="m" font-size="19">n<tspan font-size="12" dy="4">q</tspan></text>
<text x="1048" y="595" class="mb" font-size="19">e<tspan font-size="12" dy="4">c</tspan><tspan font-size="8" dy="3">k</tspan></text>
<text x="887" y="627" class="mb" font-size="19">e<tspan font-size="12" dy="4">c</tspan><tspan font-size="8" dy="3">1</tspan></text>
<text x="906" y="747" class="mb" font-size="19">n<tspan font-size="12" dy="4">p</tspan><tspan font-size="8" dy="3">1</tspan></text>
<text x="1030" y="750" class="sb" font-size="14">······</text>
<g stroke="#444" stroke-width="0.8">
<rect x="893" y="642" width="12" height="10" fill="#fff"/><rect x="893" y="652" width="12" height="10" fill="#fdf0e6"/><rect x="893" y="662" width="12" height="10" fill="#fbe3d2"/><rect x="893" y="672" width="12" height="10" fill="#f9d6bd"/><rect x="893" y="682" width="12" height="10" fill="#f6c8a6"/><rect x="893" y="692" width="12" height="10" fill="#f4bb92"/>
<rect x="1058" y="607" width="12" height="10" fill="#fff"/><rect x="1058" y="617" width="12" height="10" fill="#eef1f8"/><rect x="1058" y="627" width="12" height="10" fill="#5a76b8"/><rect x="1058" y="637" width="12" height="10" fill="#4a67ad"/>
<rect x="1017" y="688" width="12" height="10" fill="#3b9a8f"/><rect x="1017" y="698" width="12" height="10" fill="#5fb1a8"/><rect x="1017" y="708" width="12" height="10" fill="#8ecbc3"/><rect x="1017" y="718" width="12" height="10" fill="#b4dfda"/><rect x="1017" y="728" width="12" height="10" fill="#d6eeec"/>
</g>

<rect x="1116" y="509" width="281" height="140" rx="18" fill="#d0d0d0"/>
<rect x="1112" y="505" width="281" height="140" rx="18" fill="#dae3f3"/>
<text x="1130" y="528" class="sb" font-size="21">Numerical Predict</text>
<text x="1348" y="532" class="m" font-size="19">n<tspan font-size="12" dy="4">p</tspan></text><text x="1349" y="519" class="r" font-size="12">^</text>
<g stroke="#000" stroke-width="1.5" fill="#dae3f3">
<rect x="1128" y="537" width="52" height="27" rx="4"/><rect x="1249" y="537" width="52" height="27" rx="4"/>
<rect x="1128" y="578" width="52" height="27" rx="4"/><rect x="1249" y="578" width="52" height="27" rx="4"/>
<rect x="1128" y="622" width="52" height="27" rx="4"/><rect x="1249" y="622" width="52" height="27" rx="4"/>
<rect x="1342" y="544" width="33" height="34" fill="#f2f4fa"/><rect x="1342" y="578" width="33" height="33" fill="#faf2d8"/><rect x="1342" y="611" width="33" height="34" fill="#fde598"/>
</g>
<g class="m" font-size="19">
<text x="1138" y="557">e<tspan font-size="12" dy="4">c</tspan><tspan font-size="8" dy="3">1</tspan></text>
<text x="1142" y="596" class="r" font-size="15">…</text>
<text x="1138" y="642">e<tspan font-size="12" dy="4">c</tspan><tspan font-size="8" dy="3">k</tspan></text>
<text x="1258" y="557">n<tspan font-size="12" dy="4">p</tspan><tspan font-size="8" dy="3">1</tspan></text>
<text x="1263" y="596" class="r" font-size="15">…</text>
<text x="1258" y="642">n<tspan font-size="12" dy="4">p</tspan><tspan font-size="8" dy="3">k</tspan></text>
</g>
<g class="r" font-size="20" text-anchor="middle"><text x="1211" y="557">⊗</text><text x="1211" y="598">⊗</text><text x="1211" y="642">⊗</text></g>
<line x1="1305" y1="592" x2="1340" y2="592" stroke="#000" stroke-width="1.8" marker-end="url(#ak)"/>

<rect x="1116" y="675" width="281" height="168" rx="18" fill="#c8c8c8"/>
<rect x="1112" y="671" width="281" height="168" rx="18" fill="#d6dbe6"/>
<text x="1130" y="691" class="sb" font-size="21">Chain Weighting</text>
<text x="1348" y="700" class="m" font-size="19">ω<tspan font-size="12" dy="4">T</tspan></text>
<g stroke="#000" stroke-width="1.5" fill="#d6dbe6">
<rect x="1128" y="710" width="52" height="28" rx="4"/><rect x="1128" y="751" width="52" height="28" rx="4"/><rect x="1128" y="796" width="52" height="28" rx="4"/>
<rect x="1252" y="697" width="54" height="135" rx="8" fill="#c9d2e6" stroke-width="1.8"/>
<rect x="1344" y="703" width="34" height="33" fill="#4a6cb0"/><rect x="1344" y="736" width="34" height="33" fill="#6b85c2"/><rect x="1344" y="769" width="34" height="33" fill="#d6dbe6"/>
</g>
<g class="m" font-size="19">
<text x="1138" y="730">e<tspan font-size="12" dy="4">c</tspan><tspan font-size="8" dy="3">1</tspan></text>
<text x="1142" y="769" class="r" font-size="15">…</text>
<text x="1138" y="816">e<tspan font-size="12" dy="4">c</tspan><tspan font-size="8" dy="3">k</tspan></text>
</g>
<g stroke="#000" stroke-width="1.5" fill="none">
<line x1="1180" y1="722" x2="1250" y2="722" marker-end="url(#ak)"/><line x1="1180" y1="764" x2="1250" y2="764" marker-end="url(#ak)"/><line x1="1180" y1="808" x2="1250" y2="808" marker-end="url(#ak)"/>
<circle cx="1212" cy="722" r="12"/><line x1="1212" y1="710" x2="1212" y2="734"/>
<circle cx="1212" cy="764" r="12"/><line x1="1212" y1="752" x2="1212" y2="776"/>
<circle cx="1212" cy="808" r="12"/><line x1="1212" y1="796" x2="1212" y2="820"/>
<circle cx="1190" cy="702" r="7"/><path d="M1185,703 q2,-4 5,-1 q3,3 5,-1"/><path d="M1197,702 L1212,702 L1212,710"/>
<circle cx="1190" cy="744" r="7"/><path d="M1185,745 q2,-4 5,-1 q3,3 5,-1"/><path d="M1197,744 L1212,744 L1212,752"/>
<circle cx="1190" cy="788" r="7"/><path d="M1185,789 q2,-4 5,-1 q3,3 5,-1"/><path d="M1197,788 L1212,788 L1212,796"/>
<line x1="1306" y1="760" x2="1342" y2="760" marker-end="url(#ak)"/>
<path d="M1393,572 L1440,572 L1440,653" marker-end="url(#ak)"/>
<path d="M1393,762 L1440,762 L1440,691" marker-end="url(#ak)"/>
<circle cx="1440" cy="672" r="18" stroke-width="2"/>
<path d="M1431,663 L1449,681 M1449,663 L1431,681" stroke-width="2"/>
<line x1="1458" y1="672" x2="1493" y2="672" stroke-width="2" marker-end="url(#ak)"/>
<rect x="1495" y="657" width="46" height="30" rx="4" fill="#fff"/>
</g>
<text x="1279" y="765" class="mb" font-size="20" text-anchor="middle" dominant-baseline="middle" transform="rotate(90 1279 765)">TreeFormer</text>
<text x="1506" y="680" class="m" font-size="18">n<tspan font-size="11" dy="4">q</tspan></text><text x="1507" y="669" class="r" font-size="12">^</text>
</svg>
</body></html>
